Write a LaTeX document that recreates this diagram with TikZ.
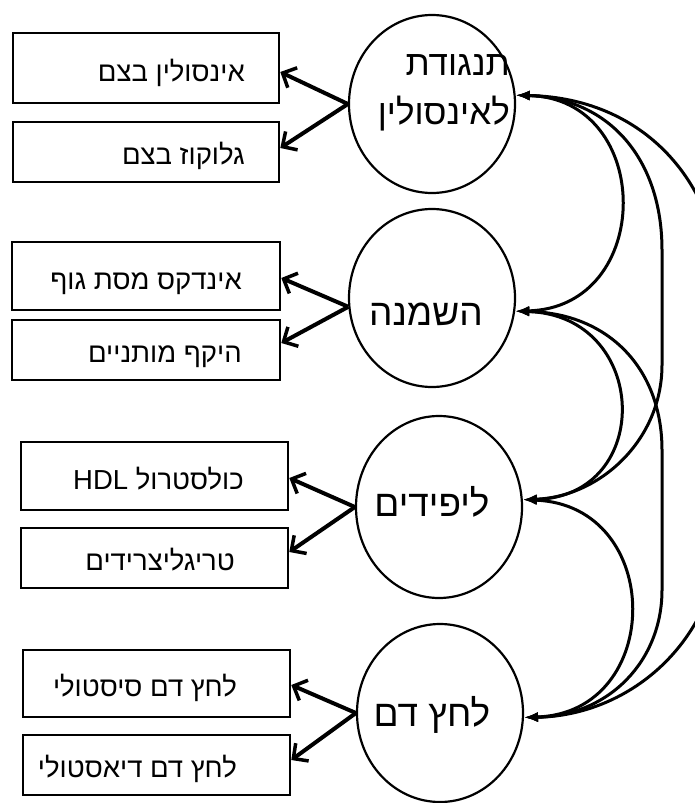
\documentclass[tikz,border=0pt]{standalone}
\usepackage{fontspec}
\newfontfamily\heb[Script=Hebrew]{Liberation Sans}
\TeXXeTstate=1
\usetikzlibrary{arrows.meta,shapes.geometric,calc}
\begin{document}
\begin{tikzpicture}[x=1pt,y=-1pt,
  box/.style={draw, line width=2.6pt, rectangle, inner sep=0pt},
  lat/.style={draw, ellipse, line width=2.2pt, minimum width=166pt, minimum height=178pt, inner sep=0pt},
  btext/.style={font=\heb\fontsize{27.5}{32}\selectfont, anchor=base east, inner sep=0pt},
  ltext/.style={font=\heb\fontsize{37}{49}\selectfont, anchor=base, inner sep=0pt},
  load/.style={line width=4pt, -{Straight Barb[length=11pt,width=22pt,line width=3.5pt]}},
  cor/.style={line width=3pt, {Latex[length=14pt,width=10pt]}-{Latex[length=14pt,width=10pt]}}]
\path[fill=white,use as bounding box] (0,0) rectangle (694,803);

% latent variables
\node[lat] (e1) at (432,104) {};
\node[lat] (e2) at (432,298) {};
\node[lat, minimum height=182pt] (e3) at (439,507) {};
\node[lat] (e4) at (440,713) {};

\node[ltext, anchor=base east, font=\heb\fontsize{35}{49}\selectfont] (t1a) at (510,75) {\beginR תנגודת\endR};
\node[ltext, anchor=base east, font=\heb\fontsize{35}{49}\selectfont] (t1b) at (510,124) {\beginR לאינסולין\endR};
\node[ltext] (t2) at (426,325) {\beginR השמנה\endR};
\node[ltext] (t3) at (432,516) {\beginR ליפידים\endR};
\node[ltext] (t4) at (432,726) {\beginR לחץ דם\endR};

% indicators
\node[box, minimum width=266pt, minimum height=70pt] (b1) at (146,68) {};
\node[box, minimum width=266pt, minimum height=60pt] (b2) at (146,152) {};
\node[box, minimum width=268pt, minimum height=68pt] (b3) at (146,276) {};
\node[box, minimum width=268pt, minimum height=60pt] (b4) at (146,350) {};
\node[box, minimum width=267pt, minimum height=68pt] (b5) at (154.5,476) {};
\node[box, minimum width=267pt, minimum height=60pt] (b6) at (154.5,558) {};
\node[box, minimum width=267pt, minimum height=67pt] (b7) at (156.5,683.5) {};
\node[box, minimum width=267pt, minimum height=60pt] (b8) at (156.5,765) {};

\node[btext] (s1) at (245,81) {\beginR אינסולין בצם\endR};
\node[btext] (s2) at (245,164) {\beginR גלוקוז בצם\endR};
\node[btext] (s3) at (242,289) {\beginR אינדקס מסת גוף\endR};
\node[btext] (s4) at (242,362) {\beginR היקף מותניים\endR};
\node[btext] (s5) at (244,489) {\beginR כולסטרול \beginL HDL\endL\endR};
\node[btext] (s6) at (235,570) {\beginR טריגליצרידים\endR};
\node[btext] (s7) at (237,696) {\beginR לחץ דם סיסטולי\endR};
\node[btext] (s8) at (237,777) {\beginR לחץ דם דיאסטולי\endR};

% loadings
\draw[load] (e1.west) -- ([yshift=-4pt]b1.east);
\draw[load] (e1.west) -- ([yshift=4pt]b2.east);
\draw[load] (e2.186) -- ([yshift=-2pt]b3.east);
\draw[load] (e2.186) -- ([yshift=7pt]b4.east);
\draw[load] (e3.west) -- ([yshift=-2pt]b5.east);
\draw[load] (e3.west) -- ([yshift=6pt]b6.east);
\draw[load] (e4.west) -- ([yshift=-1.5pt]b7.east);
\draw[load] (e4.west) -- ([yshift=5pt]b8.east);

% correlations
\draw[cor] (e1.6) .. controls (655,98) and (655,308) .. (e2.-9);
\draw[cor] (e2.-9) .. controls (650,315) and (655,497) .. (e3.5);
\draw[cor] (e3.5) .. controls (665,505) and (665,713) .. (e4.-3);
\draw[cor] (e1.6) .. controls (610,98) and (662,160) .. (662,250) -- (662,365) .. controls (662,440) and (600,497) .. (e3.5);
\draw[cor] (e2.-9) .. controls (610,313) and (662,370) .. (662,450) -- (662,590) .. controls (662,660) and (610,716) .. (e4.-3);
\draw[cor] (e1.6) .. controls (650,98) and (722,190) .. (722,300) -- (722,520) .. controls (722,640) and (630,716) .. (e4.-3);
\end{tikzpicture}
\end{document}
